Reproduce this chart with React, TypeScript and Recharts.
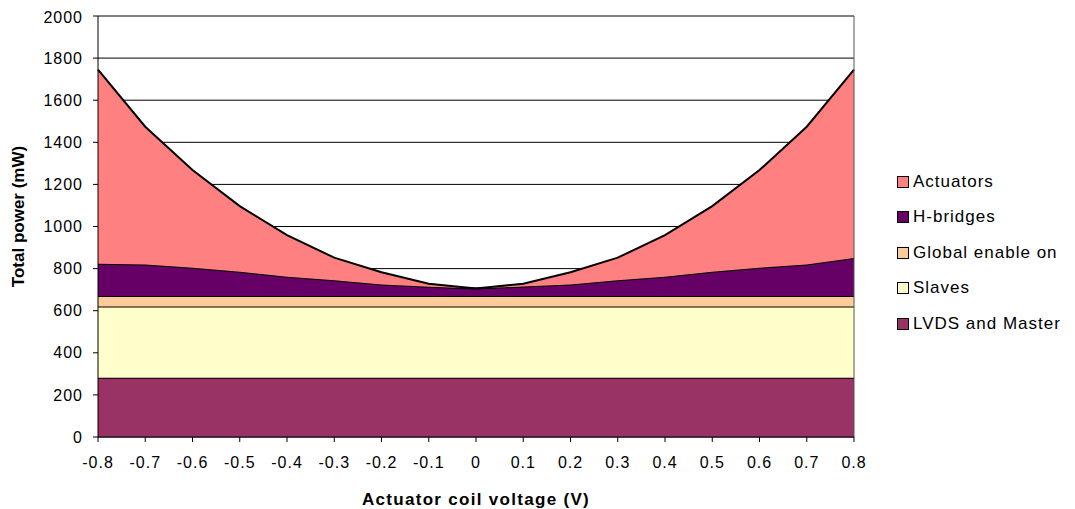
import React from "react";
import {
  AreaChart,
  Area,
  XAxis,
  YAxis,
  CartesianGrid,
  ReferenceLine,
} from "recharts";

// Actuator coil voltage (V)
const voltages = [
  "-0.8", "-0.7", "-0.6", "-0.5", "-0.4", "-0.3", "-0.2", "-0.1", "0",
  "0.1", "0.2", "0.3", "0.4", "0.5", "0.6", "0.7", "0.8",
];

// stacked contributions in mW, bottom to top
const lvdsMaster = [282, 282, 282, 282, 282, 282, 282, 282, 282, 282, 282, 282, 282, 282, 282, 282, 282];
const slaves = [338, 338, 338, 338, 338, 338, 338, 338, 338, 338, 338, 338, 338, 338, 338, 338, 338];
const globalEnable = [50, 50, 50, 50, 50, 50, 50, 50, 50, 50, 50, 50, 50, 50, 50, 50, 50];
const hBridges = [153, 150, 134, 115, 91, 75, 55, 44, 35, 45, 55, 75, 91, 115, 134, 150, 180];
const actuators = [922, 654, 464, 312, 198, 107, 58, 14, 0, 13, 58, 107, 198, 312, 464, 654, 895];

const yTicks = [0, 200, 400, 600, 800, 1000, 1200, 1400, 1600, 1800, 2000];

const series = [
  { key: "lvds", name: "LVDS and Master", color: "#993366" },
  { key: "slaves", name: "Slaves", color: "#FFFFCC" },
  { key: "global", name: "Global enable on", color: "#FFCC99" },
  { key: "hbridges", name: "H-bridges", color: "#660066" },
  { key: "actuators", name: "Actuators", color: "#FF8080" },
];

const data = voltages.map((v, i) => ({
  v,
  lvds: lvdsMaster[i],
  slaves: slaves[i],
  global: globalEnable[i],
  hbridges: hBridges[i],
  actuators: actuators[i],
}));

const font = "Arial, 'Liberation Sans', sans-serif";
const tickStyle = { fontSize: 16, fill: "#000", fontFamily: font, letterSpacing: 1 };

function LegendBox() {
  const items = [...series].reverse();
  return (
    <div
      style={{
        position: "absolute",
        left: 889,
        top: 156,
        fontFamily: font,
        fontSize: 17,
        letterSpacing: 1,
      }}
    >
      {items.map((s) => (
        <div key={s.key} style={{ display: "flex", alignItems: "center", height: 35.5 }}>
          <span
            style={{
              display: "inline-block",
              width: 10,
              height: 10,
              background: s.color,
              border: "1px solid #000",
              marginRight: 4,
            }}
          />
          <span>{s.name}</span>
        </div>
      ))}
    </div>
  );
}

export default function App() {
  return (
    <div style={{ position: "relative", width: 1067, height: 501, background: "#fff" }}>
      <AreaChart
        width={1067}
        height={501}
        data={data}
        margin={{ top: 8, right: 221, bottom: 0, left: 0 }}
      >
        <CartesianGrid vertical={false} stroke="#000" />
        <XAxis
          dataKey="v"
          interval={0}
          height={72}
          tickSize={5}
          tickMargin={15}
          stroke="#000"
          tick={tickStyle}
          label={{
            value: "Actuator coil voltage (V)",
            position: "insideBottom",
            offset: 4,
            style: { fontFamily: font, fontSize: 17, fontWeight: "bold", fill: "#000", letterSpacing: 1.3 },
          }}
        />
        <YAxis
          type="number"
          domain={[0, 2000]}
          ticks={yTicks}
          width={90}
          tickSize={5}
          tickMargin={10}
          stroke="#000"
          tick={tickStyle}
          label={{
            content: ({ viewBox }: any) => {
              const cx = viewBox.x + 10;
              const cy = viewBox.y + viewBox.height / 2 - 10;
              return (
                <text
                  x={cx}
                  y={cy}
                  transform={`rotate(-90, ${cx}, ${cy})`}
                  textAnchor="middle"
                  dominantBaseline="central"
                  style={{ fontFamily: font, fontSize: 17, fontWeight: "bold", fill: "#000" }}
                >
                  Total power (mW)
                </text>
              );
            },
          }}
        />
        {series.map((s) => (
          <Area
            key={s.key}
            type="linear"
            dataKey={s.key}
            name={s.name}
            stackId="a"
            fill={s.color}
            fillOpacity={1}
            stroke="#000"
            strokeWidth={2}
            isAnimationActive={false}
            dot={false}
            activeDot={false}
          />
        ))}
        <ReferenceLine y={2000} stroke="#808080" />
        <ReferenceLine x="0.8" stroke="#555" />
      </AreaChart>
      <LegendBox />
    </div>
  );
}
